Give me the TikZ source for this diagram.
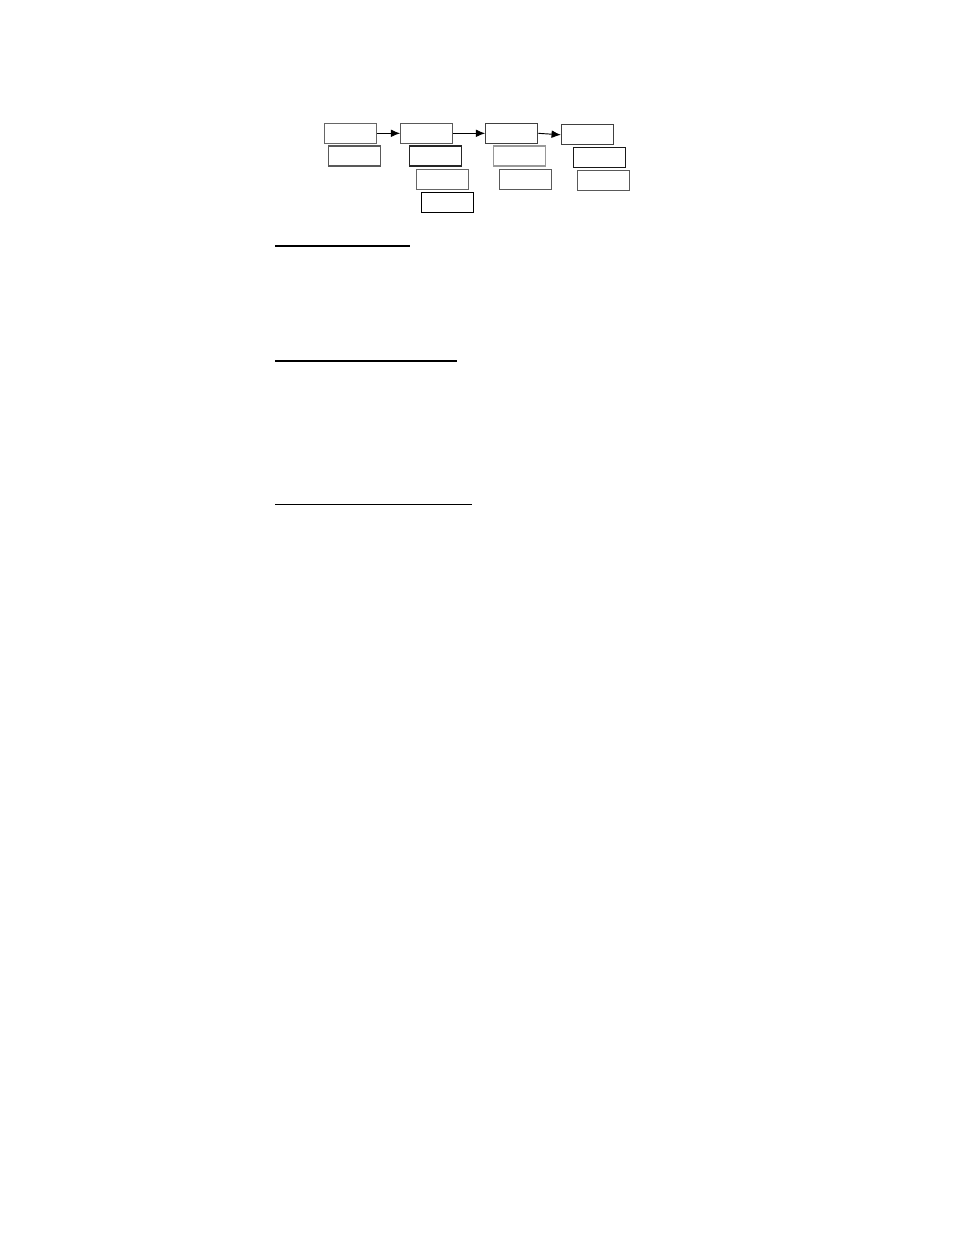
\documentclass[tikz,border=0pt]{standalone}
\usetikzlibrary{arrows.meta}
\begin{document}
\begin{tikzpicture}[x=0.6415pt,y=-0.6415pt,
  box/.style={draw=#1,line width=0.7pt,inner sep=0pt,minimum width=33.4pt,minimum height=12.8pt},
  box/.default=gray,
  flow/.style={-{Latex[length=6pt,width=5pt]},line width=0.6pt,black},
  rule/.style={line width=1pt,black}]
\useasboundingbox[fill=white] (0,0) rectangle (954,1235);
% top row
\node[box=black!60] (A1) at (350.3,133.3) {};
\node[box=black!65] (B1) at (426.7,133.3) {};
\node[box=black!75] (C1) at (511.7,133.3) {};
\node[box=black!75] (D1) at (587.5,134.8) {};
% lower boxes
\node[box=black!65] (A2) at (354.2,156) {};
\node[box=black!85] (B2) at (435.5,156) {};
\node[box=black!60] (B3) at (442.7,179.3) {};
\node[box=black] (B4) at (447.3,202.7) {};
\node[box=black!40] (C2) at (519.5,156) {};
\node[box=black!65] (C3) at (525.3,179.7) {};
\node[box=black!90] (D2) at (599.2,157.3) {};
\node[box=black!65] (D3) at (603.3,180.5) {};
\draw[flow] (A1.east) -- (B1.west);
\draw[flow] (B1.east) -- (C1.west);
\draw[flow] (C1.east) -- (D1.west);
% underlines
\draw[rule] (275,246) -- (410,246);
\draw[rule] (275,361) -- (456.7,361);
\draw[rule] (275,504.3) -- (471.7,504.3);
\end{tikzpicture}
\end{document}
